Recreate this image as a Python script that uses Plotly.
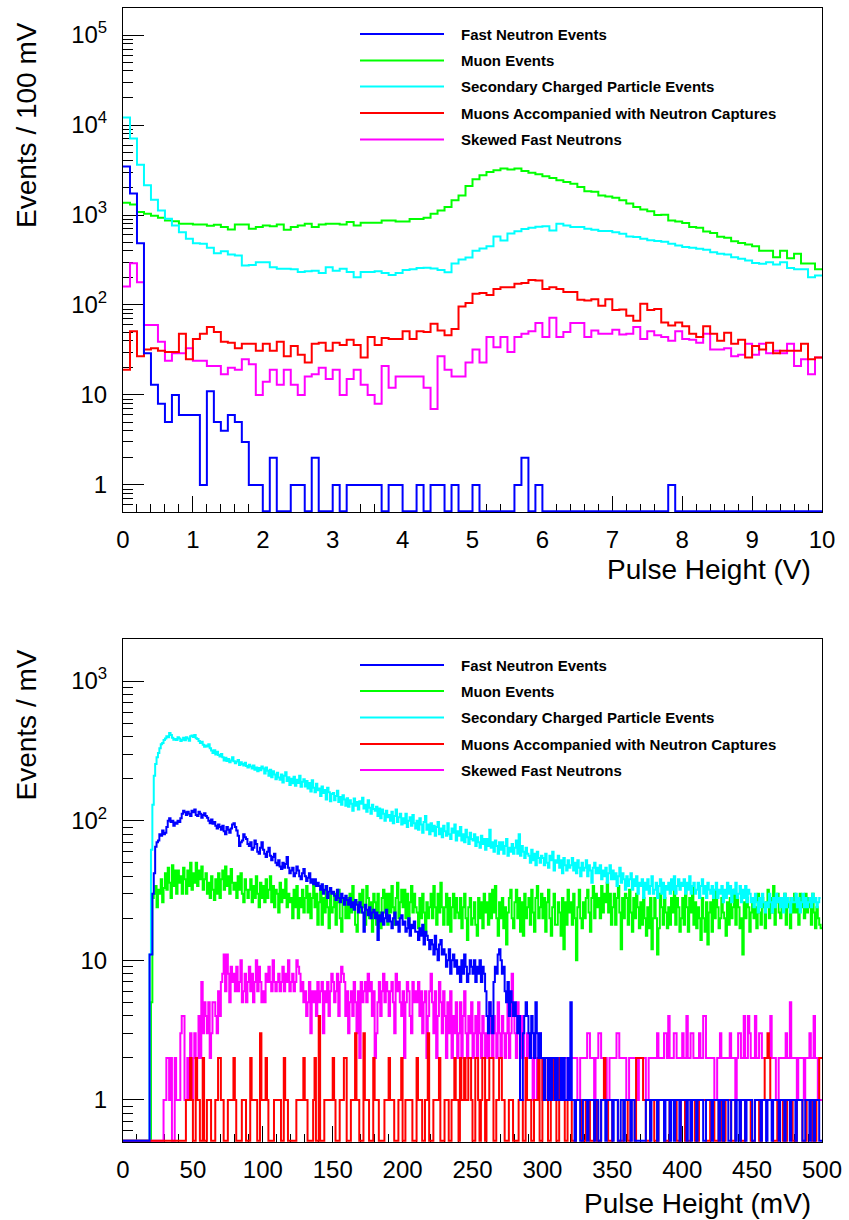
import numpy as np
import plotly.graph_objects as go

# ---------------- data : top panel (100 bins of 0.1 V, 0..10 V) ----------------
top_lo, top_width = 0.0, 0.1
top_fast = [3470, 1730, 486, 29, 13, 8, 5, 10, 6, 6,
            6, 1, 11, 5, 4, 6, 5, 3, 1, 1,
            0, 2, 0, 0, 1, 1, 0, 2, 0, 0,
            1, 0, 1, 1, 1, 1, 1, 0, 1, 1,
            0, 0, 1, 0, 1, 1, 0, 1, 0, 0,
            1, 0, 0, 0, 0, 0, 1, 2, 0, 1,
            0, 0, 0, 0, 0, 0, 0, 0, 0, 0,
            0, 0, 0, 0, 0, 0, 0, 0, 1, 0,
            0, 0, 0, 0, 0, 0, 0, 0, 0, 0,
            0, 0, 0, 0, 0, 0, 0, 0, 0, 0]
top_muon = [1370, 1310, 1080, 1030, 980, 930, 870, 850, 800, 800,
            786, 786, 760, 778, 734, 692, 786, 786, 703, 734,
            766, 752, 786, 686, 734, 766, 800, 734, 786, 800,
            800, 786, 835, 766, 820, 820, 820, 871, 871, 849,
            849, 901, 901, 933, 1033, 1125, 1224, 1455, 1652, 2100,
            2500, 2760, 3000, 3140, 3280, 3200, 3280, 3080, 2950, 2830,
            2690, 2580, 2430, 2330, 2230, 2050, 1840, 1810, 1650, 1610,
            1560, 1455, 1340, 1224, 1150, 1100, 1000, 1010, 871, 849,
            815, 734, 720, 655, 630, 575, 560, 510, 490, 470,
            450, 400, 400, 340, 400, 330, 370, 290, 290, 250]
top_secondary = [12100, 7070, 3630, 2137, 1480, 1125, 908, 766, 645, 544,
                 486, 480, 432, 377, 396, 364, 355, 275, 279, 299,
                 299, 263, 252, 252, 249, 232, 237, 240, 227, 263,
                 240, 252, 232, 204, 232, 232, 237, 227, 216, 227,
                 245, 250, 258, 260, 255, 245, 231, 290, 320, 338,
                 400, 425, 450, 578, 520, 625, 660, 700, 720, 740,
                 752, 674, 800, 766, 734, 734, 703, 686, 666, 666,
                 645, 620, 578, 570, 544, 525, 515, 505, 480, 459,
                 442, 432, 421, 412, 386, 372, 364, 340, 327, 312,
                 292, 287, 299, 282, 299, 258, 249, 249, 204, 212]
top_capture = [19, 51, 27, 32, 33, 31, 30, 30, 48, 25,
               42, 48, 57, 50, 39, 38, 33, 37, 37, 31,
               37, 31, 39, 27, 35, 28, 23, 37, 38, 31,
               38, 36, 41, 36, 26, 44, 36, 43, 42, 42,
               51, 42, 51, 50, 62, 52, 46, 54, 96, 105,
               133, 136, 129, 151, 157, 157, 172, 176, 190, 187,
               151, 157, 151, 139, 139, 114, 112, 116, 98, 116,
               88, 89, 76, 67, 103, 88, 90, 64, 59, 64,
               58, 48, 44, 58, 48, 40, 49, 37, 41, 26,
               35, 32, 38, 29, 31, 31, 31, 37, 25, 26]
top_skewed = [160, 291, 179, 60, 60, 39, 24, 29, 29, 33,
              24, 24, 21, 21, 17, 20, 19, 25, 22, 10,
              14, 19, 13, 19, 13, 10, 16, 17, 20, 15,
              19, 10, 15, 19, 13, 10, 8, 21, 12, 16,
              16, 16, 16, 12, 7, 27, 19, 16, 16, 23,
              32, 23, 44, 34, 44, 30, 44, 48, 51, 63,
              44, 72, 44, 50, 63, 63, 44, 52, 48, 48,
              53, 47, 48, 57, 42, 51, 46, 44, 40, 51,
              42, 41, 38, 48, 32, 32, 33, 27, 28, 37,
              28, 37, 29, 31, 29, 37, 21, 25, 17, 26]

# ---------------- data : bottom panel (500 bins of 1 mV, 0..500 mV) ----------------
bot_lo, bot_width = 0.0, 1.0
bot_fast = [0] * 19 + [11,
    11, 30, 42, 65, 70, 72, 80, 78, 85, 80,
    82, 90, 100, 104, 98, 100, 92, 97, 95, 100,
    98, 104, 112, 118, 115, 110, 116, 112, 108, 118,
    115, 120, 110, 108, 116, 112, 105, 110, 113, 108,
    105, 100, 96, 102, 95, 98, 92, 88, 94, 90,
    86, 92, 84, 80, 90, 86, 82, 88, 94, 96,
    90, 85, 78, 66, 70, 72, 80, 76, 74, 68,
    66, 70, 62, 64, 72, 68, 60, 58, 64, 70,
    62, 58, 55, 60, 64, 56, 52, 55, 58, 50,
    48, 52, 47, 45, 50, 46, 49, 55, 46, 42,
    44, 46, 40, 42, 47, 44, 40, 38, 42, 45,
    40, 37, 39, 42, 36, 38, 35, 38, 34, 36,
    34, 32, 35, 30, 32, 34, 28, 31, 33, 30,
    31, 29, 27, 32, 28, 26, 30, 28, 25, 29,
    27, 25, 28, 24, 26, 23, 27, 25, 22, 26,
    24, 22, 16, 25, 23, 21, 24, 20, 22, 23,
    20, 22, 14, 21, 19, 22, 18, 20, 23, 19,
    21, 19, 17, 20, 22, 18, 19, 16, 20, 21,
    18, 19, 16, 17, 20, 15, 18, 17, 19, 16,
    16, 14, 17, 15, 18, 13, 16, 15, 14, 12,
    14, 13, 11, 15, 12, 10, 13, 14, 11, 12,
    11, 9, 10, 12, 8, 10, 11, 9, 10, 8,
    9, 7, 10, 8, 11, 9, 7, 8, 10, 9,
    8, 10, 7, 9, 8, 10, 7, 9, 8, 6,
    4, 3, 5, 4, 3, 7, 9, 8, 11, 12,
    10, 8, 9, 6, 5, 7, 4, 6, 5, 4,
    5, 4, 3, 4, 1, 1, 3, 4, 5, 4,
    3, 2, 4, 3, 2, 5, 3, 2, 3, 2,
    2, 1, 2, 2, 1, 2, 1, 2, 2, 1,
    2, 1, 1, 2, 1, 2, 1, 1, 2, 1,
    5, 1, 1, 0, 1, 1, 1, 0, 0, 1,
    1, 1, 0, 1, 1, 1, 1, 0, 1, 1,
    0, 0, 1, 1, 1, 0, 1, 1, 1, 1,
    0, 1, 1, 1, 0, 0, 1, 1, 0, 1,
    1, 1, 1, 0, 1, 1, 0, 0, 0, 0,
    0, 0, 0, 0, 1, 1, 1, 0, 1, 1,
    1, 1, 0, 1, 1, 1, 1, 0, 1, 1,
    1, 0, 1, 1, 0, 1, 1, 1, 0, 1,
    1, 1, 1, 0, 1, 1, 0, 1, 1, 1,
    0, 1, 1, 1, 1, 0, 0, 1, 1, 1,
    1, 0, 1, 1, 1, 1, 0, 1, 1, 0,
    1, 1, 1, 0, 0, 1, 1, 1, 0, 1,
    1, 0, 1, 1, 1, 0, 1, 1, 1, 1,
    0, 0, 1, 1, 1, 1, 0, 1, 1, 1,
    0, 1, 1, 1, 0, 1, 1, 1, 1, 0,
    1, 1, 1, 0, 1, 1, 1, 0, 1, 1,
    1, 0, 1, 1, 1, 1, 0, 0, 1, 1,
    1, 0, 1, 1, 0, 1, 1, 1, 0, 0]
bot_muon = [0] * 20 + [
    5, 28, 30, 34, 24, 32, 30, 38, 26, 33,
    42, 32, 46, 36, 28, 48, 34, 44, 30, 44,
    36, 40, 30, 46, 38, 30, 44, 34, 50, 32,
    42, 36, 50, 34, 44, 38, 47, 32, 38, 42,
    30, 36, 28, 40, 32, 27, 38, 30, 42, 28,
    38, 44, 32, 47, 34, 40, 30, 45, 36, 32,
    36, 28, 40, 32, 42, 30, 26, 38, 32, 28,
    32, 38, 26, 34, 28, 40, 30, 24, 36, 28,
    34, 26, 38, 28, 32, 40, 26, 34, 24, 32,
    30, 22, 36, 26, 32, 28, 38, 24, 30, 26,
    28, 20, 32, 24, 34, 20, 28, 24, 32, 22,
    28, 34, 22, 30, 20, 28, 36, 24, 30, 18,
    26, 32, 18, 28, 22, 34, 24, 17, 30, 22,
    24, 30, 18, 26, 32, 20, 16, 28, 26, 20,
    28, 20, 30, 22, 34, 24, 18, 16, 26, 30,
    22, 32, 24, 18, 34, 28, 20, 26, 16, 30,
    26, 18, 30, 22, 17, 28, 32, 22, 30, 18,
    30, 22, 34, 24, 18, 28, 36, 20, 26, 32,
    24, 32, 20, 30, 18, 26, 34, 22, 30, 24,
    22, 17, 28, 20, 30, 22, 15, 26, 20, 24,
    30, 20, 34, 24, 18, 30, 22, 36, 24, 18,
    24, 30, 18, 28, 16, 24, 30, 20, 28, 22,
    20, 28, 17, 24, 30, 20, 14, 24, 28, 18,
    20, 26, 18, 15, 28, 20, 26, 17, 30, 22,
    26, 18, 30, 20, 32, 22, 34, 20, 15, 26,
    20, 28, 17, 24, 13, 22, 28, 32, 20, 17,
    26, 32, 20, 28, 16, 26, 15, 30, 20, 24,
    28, 18, 32, 22, 16, 28, 34, 20, 24, 30,
    20, 28, 16, 26, 32, 20, 15, 24, 30, 18,
    18, 26, 22, 15, 28, 12, 26, 18, 32, 22,
    26, 18, 30, 20, 10, 24, 32, 20, 17, 26,
    20, 28, 32, 22, 16, 28, 34, 20, 30, 24,
    28, 20, 34, 22, 30, 26, 36, 22, 30, 18,
    24, 30, 18, 28, 34, 22, 12, 28, 20, 30,
    28, 18, 32, 22, 16, 28, 20, 30, 24, 17,
    26, 18, 28, 20, 15, 24, 17, 28, 12, 20,
    28, 20, 11, 17, 30, 24, 18, 28, 22, 17,
    24, 18, 28, 22, 32, 18, 28, 24, 16, 20,
    28, 18, 32, 24, 16, 28, 22, 34, 18, 26,
    17, 24, 20, 14, 28, 20, 16, 26, 13, 22,
    26, 16, 28, 20, 32, 24, 17, 20, 28, 22,
    20, 15, 26, 18, 28, 20, 24, 32, 18, 28,
    24, 17, 20, 11, 26, 20, 28, 24, 16, 22,
    28, 20, 24, 17, 30, 22, 18, 28, 24, 17,
    26, 32, 20, 28, 22, 34, 18, 26, 30, 22,
    20, 28, 24, 30, 18, 28, 24, 17, 28, 22,
    30, 22, 28, 18, 30, 24, 28, 20, 30, 22,
    28, 24, 18, 30, 22, 17, 24, 20, 18, 17]
bot_secondary = [0] * 19 + [11,
    62, 130, 210, 255, 285, 305, 330, 352, 360, 378,
    388, 402, 396, 425, 410, 392, 380, 384, 378, 395,
    388, 372, 380, 392, 376, 395, 388, 374, 402, 408,
    398, 410, 390, 384, 372, 360, 368, 350, 338, 345,
    340, 352, 330, 318, 305, 320, 298, 312, 295, 288,
    300, 285, 270, 282, 268, 276, 262, 270, 285, 266,
    258, 265, 272, 250, 262, 255, 248, 260, 246, 240,
    252, 244, 236, 248, 232, 240, 226, 238, 230, 244,
    236, 218, 240, 228, 210, 232, 205, 226, 214, 198,
    220, 204, 196, 214, 188, 210, 222, 192, 205, 180,
    200, 185, 206, 178, 196, 186, 210, 175, 190, 198,
    176, 192, 170, 186, 162, 195, 172, 160, 184, 165,
    170, 150, 176, 158, 166, 142, 172, 160, 138, 155,
    158, 140, 150, 164, 136, 148, 130, 152, 142, 128,
    145, 126, 140, 132, 118, 144, 128, 136, 120, 138,
    132, 146, 122, 130, 116, 140, 124, 112, 130, 121,
    118, 126, 108, 122, 104, 120, 112, 100, 118, 106,
    110, 100, 116, 96, 108, 120, 98, 106, 112, 94,
    104, 96, 112, 90, 100, 106, 92, 110, 96, 88,
    100, 86, 104, 94, 82, 98, 108, 86, 94, 80,
    96, 84, 92, 78, 90, 98, 80, 88, 76, 92,
    84, 78, 96, 80, 74, 88, 82, 94, 72, 84,
    78, 90, 72, 80, 70, 86, 76, 68, 82, 74,
    72, 80, 66, 76, 70, 64, 78, 68, 74, 62,
    74, 66, 86, 64, 70, 60, 72, 66, 58, 70,
    62, 70, 58, 66, 74, 56, 64, 60, 68, 58,
    64, 72, 58, 80, 56, 66, 60, 54, 64, 58,
    56, 50, 62, 52, 58, 48, 60, 54, 50, 56,
    54, 48, 58, 50, 46, 56, 52, 60, 44, 52,
    50, 56, 46, 52, 42, 54, 48, 44, 52, 46,
    48, 54, 44, 50, 42, 52, 46, 40, 50, 44,
    46, 52, 40, 48, 44, 36, 46, 50, 42, 46,
    42, 48, 38, 44, 40, 46, 36, 42, 48, 38,
    44, 38, 42, 34, 40, 46, 36, 42, 38, 32,
    40, 34, 38, 42, 32, 38, 34, 40, 30, 36,
    34, 38, 28, 36, 32, 38, 30, 34, 40, 30,
    32, 36, 28, 34, 38, 30, 36, 28, 34, 32,
    36, 30, 38, 32, 40, 30, 34, 38, 32, 36,
    34, 38, 30, 36, 32, 40, 30, 34, 36, 30,
    32, 36, 28, 34, 38, 30, 34, 28, 36, 32,
    30, 34, 28, 32, 36, 28, 32, 30, 34, 26,
    32, 28, 36, 30, 34, 26, 32, 30, 36, 28,
    30, 34, 26, 32, 28, 34, 26, 32, 30, 26,
    28, 24, 30, 26, 22, 28, 24, 30, 26, 22,
    26, 24, 30, 26, 22, 28, 24, 30, 26, 28,
    24, 28, 22, 30, 24, 28, 26, 22, 28, 26,
    26, 30, 24, 28, 22, 26, 30, 24, 28, 24,
    26, 28, 24, 30, 26, 28, 24, 26, 28]
bot_capture = [0] * 40 + [
    0, 0, 0, 0, 0, 1, 1, 1, 2, 1,
    0, 0, 2, 1, 1, 0, 0, 2, 0, 0,
    1, 1, 1, 0, 0, 0, 1, 1, 2, 2,
    1, 1, 0, 0, 0, 1, 1, 1, 1, 2,
    1, 0, 0, 0, 0, 1, 1, 1, 0, 0,
    0, 2, 1, 1, 1, 1, 0, 0, 3, 1,
    1, 1, 2, 1, 0, 0, 0, 0, 1, 1,
    1, 1, 1, 0, 0, 2, 1, 1, 0, 0,
    0, 0, 0, 0, 1, 1, 1, 1, 1, 2,
    1, 1, 0, 0, 0, 0, 1, 2, 0, 0,
    4, 0, 0, 0, 1, 1, 1, 1, 1, 1,
    2, 1, 0, 0, 0, 1, 1, 1, 2, 2,
    0, 0, 0, 1, 1, 1, 3, 1, 1, 0,
    0, 0, 3, 1, 1, 1, 0, 0, 0, 2,
    1, 1, 1, 0, 0, 0, 0, 1, 1, 1,
    2, 1, 1, 1, 0, 0, 0, 1, 1, 2,
    0, 0, 1, 1, 1, 1, 1, 0, 0, 0,
    2, 1, 1, 1, 0, 0, 1, 1, 3, 0,
    0, 0, 1, 1, 1, 1, 2, 0, 0, 0,
    1, 1, 1, 0, 0, 1, 1, 2, 1, 1,
    0, 2, 1, 1, 2, 1, 1, 2, 2, 1,
    0, 0, 2, 2, 1, 0, 1, 2, 2, 0,
    1, 1, 2, 2, 2, 0, 0, 1, 1, 2,
    2, 1, 1, 0, 0, 0, 1, 1, 1, 0,
    0, 0, 0, 1, 1, 1, 0, 0, 2, 1,
    1, 1, 0, 0, 1, 1, 1, 2, 0, 0,
    2, 2, 1, 1, 0, 0, 1, 2, 1, 1,
    0, 0, 2, 1, 1, 1, 0, 0, 1, 1,
    1, 0, 0, 0, 1, 1, 1, 1, 0, 0,
    0, 1, 1, 1, 0, 0, 0, 1, 1, 0,
    0, 0, 1, 1, 2, 1, 1, 0, 0, 0,
    1, 1, 1, 1, 0, 0, 0, 0, 1, 1,
    1, 0, 0, 1, 1, 1, 0, 2, 2, 2,
    2, 2, 1, 1, 0, 0, 0, 1, 1, 1,
    0, 0, 0, 1, 1, 1, 1, 0, 0, 0,
    0, 1, 1, 1, 1, 1, 0, 0, 0, 1,
    1, 1, 0, 0, 0, 0, 1, 1, 1, 0,
    0, 0, 1, 1, 1, 1, 1, 0, 0, 0,
    1, 1, 1, 0, 0, 0, 1, 1, 0, 0,
    0, 1, 1, 1, 1, 0, 0, 0, 1, 1,
    1, 1, 0, 0, 0, 1, 1, 1, 1, 0,
    0, 0, 1, 1, 1, 0, 0, 1, 1, 2,
    2, 3, 2, 1, 1, 0, 0, 0, 1, 1,
    1, 1, 0, 0, 0, 1, 1, 1, 1, 0,
    0, 0, 1, 1, 1, 1, 0, 0, 0, 1,
    1, 1, 1, 0, 0, 0, 1, 1, 2, 2]
bot_skewed = [0] * 29 + [1,
    1, 2, 2, 1, 2, 0, 0, 2, 1, 1,
    1, 3, 4, 4, 1, 1, 2, 1, 3, 1,
    2, 3, 1, 2, 4, 2, 7, 3, 5, 4,
    3, 5, 2, 3, 5, 5, 4, 3, 6, 4,
    7, 8, 11, 6, 11, 8, 5, 9, 7, 8,
    6, 9, 6, 7, 10, 5, 6, 8, 5, 7,
    9, 6, 8, 5, 7, 10, 6, 9, 7, 5,
    6, 5, 8, 7, 9, 7, 6, 10, 7, 6,
    7, 8, 6, 7, 9, 6, 8, 7, 10, 6,
    7, 8, 6, 7, 10, 9, 8, 6, 7, 5,
    6, 4, 5, 7, 3, 6, 5, 6, 4, 7,
    5, 6, 7, 3, 6, 5, 7, 4, 6, 8,
    7, 5, 6, 8, 4, 7, 9, 8, 7, 4,
    6, 3, 5, 6, 4, 7, 5, 3, 6, 2,
    7, 5, 6, 7, 5, 8, 6, 7, 4, 6,
    2, 3, 5, 7, 4, 6, 8, 5, 7, 6,
    4, 6, 7, 5, 3, 8, 6, 7, 5, 4,
    6, 2, 5, 7, 6, 4, 3, 7, 5, 6,
    5, 7, 4, 6, 3, 5, 6, 2, 4, 6,
    8, 5, 3, 6, 2, 4, 7, 5, 3, 6,
    4, 2, 5, 3, 6, 2, 4, 3, 5, 2,
    3, 5, 2, 4, 6, 3, 2, 4, 3, 5,
    2, 3, 4, 2, 5, 3, 2, 4, 3, 2,
    3, 2, 5, 3, 2, 4, 3, 2, 5, 3,
    2, 4, 3, 2, 3, 5, 2, 3, 8, 4,
    3, 2, 5, 3, 2, 4, 3, 2, 1, 3,
    2, 3, 2, 1, 3, 2, 1, 2, 3, 2,
    1, 1, 2, 2, 2, 1, 1, 2, 2, 2,
    2, 2, 1, 1, 2, 2, 2, 2, 1, 1,
    2, 2, 2, 2, 2, 1, 1, 2, 2, 2,
    2, 2, 3, 3, 2, 2, 2, 1, 2, 2,
    3, 3, 2, 2, 2, 2, 1, 1, 2, 2,
    2, 2, 2, 3, 3, 2, 2, 2, 2, 2,
    1, 1, 2, 2, 2, 2, 2, 2, 1, 2,
    2, 2, 2, 2, 1, 1, 2, 2, 2, 2,
    2, 2, 3, 2, 2, 2, 2, 3, 3, 2,
    4, 2, 2, 2, 3, 3, 2, 2, 2, 2,
    3, 2, 2, 4, 2, 2, 3, 3, 2, 2,
    2, 2, 3, 2, 2, 4, 4, 2, 2, 2,
    2, 2, 2, 1, 1, 2, 2, 3, 2, 2,
    2, 2, 2, 2, 3, 2, 2, 2, 1, 2,
    3, 3, 2, 2, 4, 2, 2, 4, 3, 2,
    2, 2, 4, 2, 2, 3, 3, 2, 2, 2,
    2, 2, 2, 4, 2, 2, 2, 1, 1, 2,
    2, 2, 2, 2, 3, 2, 2, 5, 2, 2,
    2, 2, 1, 2, 2, 2, 2, 1, 2, 2,
    2, 3, 2, 2, 4, 2, 2, 1, 1, 1]

names = ["Fast Neutron Events", "Muon Events", "Secondary Charged Particle Events",
         "Muons Accompanied with Neutron Captures", "Skewed Fast Neutrons"]
colors = ["#0000ff", "#00ff00", "#00ffff", "#ff0000", "#ff00ff"]

top_series = [top_fast, top_muon, top_secondary, top_capture, top_skewed]
bot_series = [bot_fast, bot_muon, bot_secondary, bot_capture, bot_skewed]

# ---------------- layout constants (pixels) ----------------
W, H = 849, 1220
L, R, T, B = 123, 27, 8, 78
PW, PH = W - L - R, H - T - B
top_px = (8, 512)
bot_px = (639, 1142)
FONT = "Liberation Sans, Arial, Helvetica, sans-serif"
FLOOR = 0.51  # zero bins drawn along the frame bottom (log axis)


def dom(px):
    return [(H - B - px[1]) / PH, (H - B - px[0]) / PH]


def step(lo, width, vals):
    v = np.asarray(vals, dtype=float)
    edges = lo + width * np.arange(len(v) + 1)
    y = np.where(v > 0, v, FLOOR)
    return edges, np.append(y, y[-1])


fig = go.Figure()
draw_order = [1, 2, 4, 3, 0]
for series, lo, width, xa, ya in [(top_series, top_lo, top_width, "x", "y"),
                                  (bot_series, bot_lo, bot_width, "x2", "y2")]:
    for k in draw_order:
        xs, ys = step(lo, width, series[k])
        fig.add_trace(go.Scatter(x=xs, y=ys, mode="lines", line_shape="hv",
                                 line=dict(color=colors[k], width=2),
                                 name=names[k], showlegend=False,
                                 xaxis=xa, yaxis=ya, hoverinfo="skip"))


def log_ticks(emax):
    vals = [10.0 ** e for e in range(0, emax + 1)]
    text = ["1", "10"] + ["10<sup>%d</sup>" % e for e in range(2, emax + 1)]
    return vals, text


minor_log = [m * 10.0 ** e for e in range(-1, 6) for m in range(2, 10)]

common_axis = dict(showgrid=False, zeroline=False, showline=True, linecolor="black",
                   linewidth=1, mirror=True, ticks="inside", tickcolor="black",
                   tickfont=dict(family=FONT, size=24, color="black"),
                   layer="below traces", automargin=False)

tv1, tt1 = log_ticks(5)
tv2, tt2 = log_ticks(3)

fig.update_layout(
    width=W, height=H, margin=dict(l=L, r=R, t=T, b=B, autoexpand=False),
    paper_bgcolor="white", plot_bgcolor="white", showlegend=False,
    xaxis=dict(common_axis, domain=[0, 1], anchor="y", range=[0, 10],
               tickmode="linear", tick0=0, dtick=1, ticklen=16, tickwidth=1,
               ticklabelstandoff=6,
               minor=dict(ticks="inside", dtick=0.2, tick0=0, ticklen=8,
                          tickcolor="black", tickwidth=1)),
    yaxis=dict(common_axis, domain=dom(top_px), anchor="x", type="log",
               range=[np.log10(0.5), np.log10(2e5)],
               tickmode="array", tickvals=tv1, ticktext=tt1,
               ticklen=21, tickwidth=1, ticklabelstandoff=10,
               minor=dict(ticks="inside", tickmode="array", tickvals=minor_log,
                          ticklen=10, tickcolor="black", tickwidth=1)),
    xaxis2=dict(common_axis, domain=[0, 1], anchor="y2", range=[0, 500],
                tickmode="linear", tick0=0, dtick=50, ticklen=16, tickwidth=1,
                ticklabelstandoff=6,
                minor=dict(ticks="inside", dtick=10, tick0=0, ticklen=8,
                           tickcolor="black", tickwidth=1)),
    yaxis2=dict(common_axis, domain=dom(bot_px), anchor="x2", type="log",
                range=[np.log10(0.5), np.log10(2e3)],
                tickmode="array", tickvals=tv2, ticktext=tt2,
                ticklen=21, tickwidth=1, ticklabelstandoff=10,
                minor=dict(ticks="inside", tickmode="array", tickvals=minor_log,
                           ticklen=10, tickcolor="black", tickwidth=1)),
)

# ---------------- axis titles ----------------
annos = []
for xa, ya, px, ytitle, xtitle, ytop, xt_y in [
        ("x", "y", top_px, "Events / 100 mV", "Pulse Height (V)", 20, 569),
        ("x2", "y2", bot_px, "Events / mV", "Pulse Height (mV)", 648, 1203)]:
    annos.append(dict(xref=xa + " domain", yref=ya + " domain", x=0, y=1,
                      xshift=26 - L, yshift=-(ytop - px[0]), xanchor="center",
                      yanchor="top", textangle=-90, showarrow=False, text=ytitle,
                      font=dict(family=FONT, size=28, color="black")))
    annos.append(dict(xref=xa + " domain", yref=ya + " domain", x=(813 - L) / PW,
                      y=0, yshift=-(xt_y - px[1]), xanchor="right", yanchor="middle",
                      showarrow=False, text=xtitle,
                      font=dict(family=FONT, size=28, color="black")))

# ---------------- legends (ROOT-style, no box) ----------------
shapes = []
leg_rows = {"top": [34, 60.5, 86.5, 113, 139.5], "bot": [665, 691, 717.5, 744, 770]}
for key, xa, ya, px in [("top", "x", "y", top_px), ("bot", "x2", "y2", bot_px)]:
    for k, yrow in enumerate(leg_rows[key]):
        yd = (px[1] - yrow) / (px[1] - px[0])
        shapes.append(dict(type="line", xref=xa + " domain", yref=ya + " domain",
                           x0=(360 - L) / PW, x1=(444 - L) / PW, y0=yd, y1=yd,
                           line=dict(color=colors[k], width=2)))
        annos.append(dict(xref=xa + " domain", yref=ya + " domain",
                          x=(459 - L) / PW, y=yd, xanchor="left", yanchor="middle",
                          showarrow=False, text="<b>%s</b>" % names[k],
                          font=dict(family=FONT, size=15, color="black")))

fig.update_layout(annotations=annos, shapes=shapes)
fig.write_html("out.html")
